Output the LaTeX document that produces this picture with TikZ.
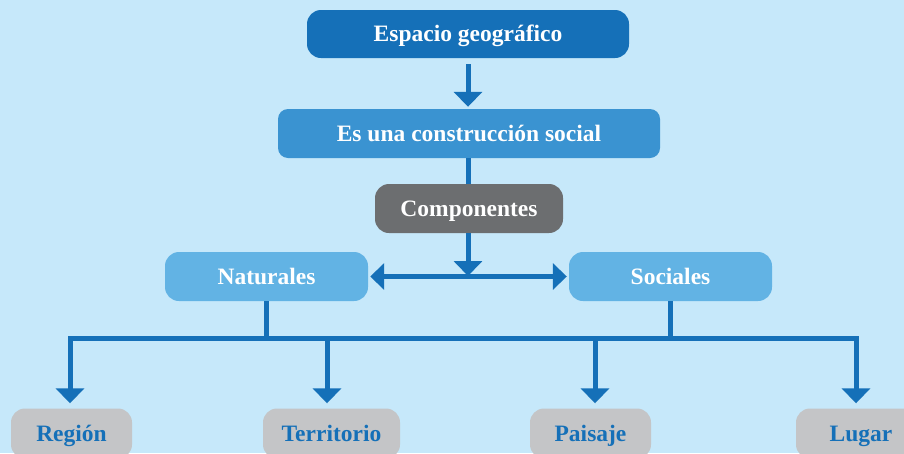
\documentclass[tikz,border=0pt]{standalone}
\usepackage{fontspec}
\setmainfont{Liberation Serif}
\usetikzlibrary{arrows.meta,calc}
\definecolor{bg}{HTML}{C6E8FA}
\definecolor{dblue}{HTML}{1570B8}
\definecolor{mblue}{HTML}{3A93D1}
\definecolor{lblue}{HTML}{62B3E4}
\definecolor{dgray}{HTML}{6C6E70}
\definecolor{lgray}{HTML}{C4C5C7}
\tikzset{
  box/.style={rectangle, rounded corners=14pt, inner sep=0pt, text=white,
    font=\fontsize{23.5}{26}\selectfont\bfseries, text height=15.5pt, text depth=0pt},
  leaf/.style={box, fill=lgray, text=dblue, minimum height=50pt},
  conn/.style={draw=dblue, line width=5pt, line join=miter},
  arr/.style={conn, -{Triangle[width=28pt,length=15pt]}},
  darr/.style={conn, {Triangle[width=26pt,length=14pt]}-{Triangle[width=26pt,length=14pt]}}
}
\begin{document}
\begin{tikzpicture}[x=1pt,y=-1pt]
\useasboundingbox (0,0) rectangle (904,453);
\clip (0,0) rectangle (904,453);
\fill[bg] (0,0) rectangle (904,453);
\node[box, fill=dblue, minimum width=322pt, minimum height=48pt] (esp) at (468,34) {Espacio geográfico};
\node[box, fill=mblue, rounded corners=10pt, minimum width=382pt, minimum height=49pt] (cons) at (469,133.5) {Es una construcción social};
\node[box, fill=dgray, minimum width=188pt, minimum height=49pt] (comp) at (469,208.5) {Componentes};
\node[box, fill=lblue, minimum width=203pt, minimum height=49pt] (nat) at (266.5,276.5) {Naturales};
\node[box, fill=lblue, minimum width=203pt, minimum height=49pt] (soc) at (670.5,276.5) {Sociales};
\node[leaf, minimum width=121pt] (reg) at (71.5,433.5) {Región};
\node[leaf, minimum width=137pt] (ter) at (331.5,433.5) {Territorio};
\node[leaf, minimum width=121pt] (pai) at (590.5,433.5) {Paisaje};
\node[leaf, minimum width=130pt] (lug) at (861,433.5) {Lugar};
\coordinate (top) at (468,64);
\coordinate (mid) at (468,276);
\coordinate (hl) at (70,338);
\coordinate (hr) at (856,338);
\coordinate (nd) at (266,338);
\coordinate (sd) at (670,338);
\coordinate (td) at (327,338);
\coordinate (pd) at (595,338);
\draw[arr, shorten >=2pt] (top) -- (top |- cons.north);
\draw[conn] (cons.south -| top) -- (comp.north -| top);
\draw[arr] (comp.south -| top) -- (mid);
\draw[darr, shorten <=2pt, shorten >=2pt] (nat.east) -- (soc.west);
\draw[conn] (nat.south -| nd) -- (nd);
\draw[conn] (soc.south -| sd) -- (sd);
\draw[arr, shorten >=5pt] (hr) -- (hl) -- (hl |- reg.north);
\draw[arr, shorten >=5pt] (hl) -- (hr) -- (hr |- lug.north);
\draw[arr, shorten >=5pt] (td) -- (td |- ter.north);
\draw[arr, shorten >=5pt] (pd) -- (pd |- pai.north);
\end{tikzpicture}
\end{document}
